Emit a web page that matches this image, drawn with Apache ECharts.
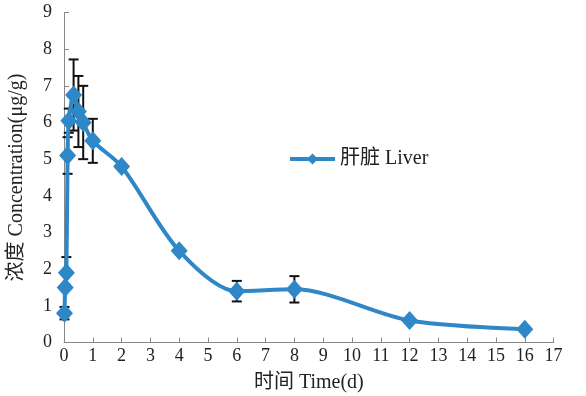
<!DOCTYPE html>
<html><head><meta charset="utf-8">
<script src="https://cdn.jsdelivr.net/npm/echarts@6/dist/echarts.min.js"></script>
<style>html,body{margin:0;padding:0;background:#fff}#c{width:586px;height:396px}</style>
</head><body><div id="c"></div>
<script>
var times = [0.017, 0.042, 0.083, 0.125, 0.167, 0.333, 0.5, 0.667, 1, 2, 4, 6, 8, 12, 16];
var liver = [0.8, 1.5, 1.9, 5.1, 6.05, 6.75, 6.3, 6.0, 5.5, 4.8, 2.5, 1.4, 1.45, 0.6, 0.36];
var liverSD = [0.17, 0, 0.43, 0.5, 0.33, 0.97, 0.97, 1.0, 0.6, 0, 0, 0.28, 0.36, 0, 0];
var xTicks = [0,1,2,3,4,5,6,7,8,9,10,11,12,13,14,15,16,17];
var yTicks = [0,1,2,3,4,5,6,7,8,9];
var seriesName = '肝脏 Liver';
var xName = '时间 Time(d)';
var yName = '浓度 Concentration(μg/g)';

var lineData = times.map(function(t,i){return [t, liver[i]];});
var errData = times.map(function(t,i){return [t, liver[i]-liverSD[i], liver[i]+liverSD[i]];}).filter(function(d,i){return liverSD[i]>0;});
var font = "'Liberation Serif','Noto Sans CJK SC',serif";
var chart = echarts.init(document.getElementById('c'));
chart.setOption({
  backgroundColor:'#fff',
  animation:false,
  grid:{left:64,right:32.4,top:12.5,bottom:53.5,outerBoundsMode:'none',containLabel:false},
  legend:{left:283,top:144,itemWidth:45,itemHeight:14,itemGap:8,
    lineStyle:{width:4},
    textStyle:{fontFamily:font,fontSize:20,color:'#222'},data:[seriesName]},
  xAxis:{type:'value',min:xTicks[0],max:xTicks[xTicks.length-1],interval:1,
    name:xName,nameLocation:'middle',nameGap:30,
    nameTextStyle:{fontFamily:font,fontSize:20,color:'#222'},
    axisLine:{lineStyle:{color:'#888',width:1}},
    axisTick:{inside:true,length:5,lineStyle:{color:'#888'}},
    axisLabel:{fontFamily:font,fontSize:18,color:'#222',margin:5},
    splitLine:{show:false}},
  yAxis:{type:'value',min:yTicks[0],max:yTicks[yTicks.length-1],interval:1,
    name:yName,nameLocation:'middle',nameGap:37,
    nameTextStyle:{fontFamily:font,fontSize:20,color:'#222'},
    axisLine:{show:true,lineStyle:{color:'#888',width:1}},
    axisTick:{show:true,inside:true,length:5,lineStyle:{color:'#888'}},
    axisLabel:{fontFamily:font,fontSize:18,color:'#222',margin:12},
    splitLine:{show:false}},
  series:[
    {type:'custom',name:'err',z:1,
     renderItem:function(params,api){
       var x=api.value(0), lo=api.coord([x,api.value(1)]), hi=api.coord([x,api.value(2)]);
       var w=5;
       var st={stroke:'#111',lineWidth:2};
       return {type:'group',children:[
         {type:'line',shape:{x1:lo[0],y1:lo[1],x2:hi[0],y2:hi[1]},style:st},
         {type:'line',shape:{x1:lo[0]-w,y1:lo[1],x2:lo[0]+w,y2:lo[1]},style:st},
         {type:'line',shape:{x1:hi[0]-w,y1:hi[1],x2:hi[0]+w,y2:hi[1]},style:st}
       ]};
     },
     encode:{x:0,y:[1,2]},data:errData},
    {type:'line',name:seriesName,z:3,data:lineData,smooth:0.3,
     symbol:'diamond',symbolSize:[17,19],
     lineStyle:{color:'#2e88c8',width:4},
     itemStyle:{color:'#2e88c8'}}
  ]
});
</script></body></html>
